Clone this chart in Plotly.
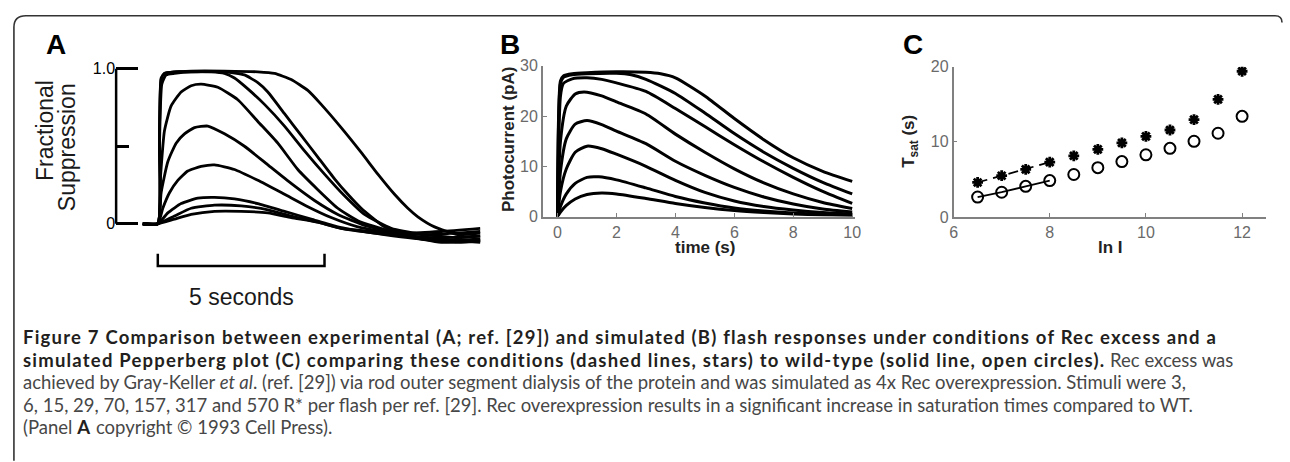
import plotly.graph_objects as go

W, H = 1290, 462

# ---------------- Panel A: experimental fractional suppression
A_t = [
    [-0.45, 0, 0.5, 1.0, 1.7, 2.5, 3.3, 4.0, 4.8, 5.5, 6.5, 7.5, 8.5, 9.67],
    [-0.45, 0, 0.5, 1.0, 1.7, 2.5, 3.3, 4.0, 4.8, 5.5, 6.5, 7.5, 8.5, 9.67],
    [-0.45, 0, 0.3, 0.7, 1.2, 1.7, 2.3, 3.0, 3.8, 4.6, 5.4, 6.5, 7.5, 8.5, 9.67],
    [-0.45, 0, 0.15, 0.35, 0.6, 0.9, 1.3, 1.7, 2.3, 3.0, 3.8, 4.5, 5.2, 6.0, 7.0, 8.0, 9.0, 9.67],
    [-0.45, 0, 0.1, 0.3, 0.55, 0.8, 1.1, 1.5, 2.0, 2.6, 3.3, 4.0, 4.7, 5.4, 6.2, 7.0, 8.0, 9.0, 9.67],
    [-0.45, 0, 0.08, 0.2, 0.4, 0.7, 1.0, 1.3, 1.8, 2.4, 3.0, 3.6, 4.2, 4.8, 5.4, 6.0, 7.0, 8.0, 9.0, 9.67],
    [-0.45, 0, 0.05, 0.12, 0.25, 0.5, 1.0, 1.6, 2.0, 2.3, 2.7, 3.2, 3.8, 4.4, 5.0, 5.6, 6.2, 7.0, 8.0, 9.0, 9.67],
    [-0.45, 0, 0.05, 0.1, 0.2, 0.5, 1.0, 2.0, 2.6, 3.0, 3.3, 3.8, 4.3, 4.8, 5.3, 5.7, 6.1, 6.8, 7.5, 8.5, 9.67],
    [-0.45, 0, 0.05, 0.1, 0.2, 0.5, 1, 2, 3, 3.5, 4.0, 4.5, 4.9, 5.5, 6.1, 6.6, 7.1, 7.5, 7.8, 8.3, 9.0, 9.67],
]
A_v = [
    [0, 0, 0.03, 0.06, 0.08, 0.08, 0.07, 0.04, 0.01, -0.03, -0.05, -0.06, -0.05, -0.03],
    [0, 0, 0.05, 0.10, 0.12, 0.115, 0.09, 0.05, 0.01, -0.03, -0.06, -0.08, -0.09, -0.08],
    [0, 0, 0.07, 0.13, 0.165, 0.17, 0.16, 0.13, 0.08, 0.03, -0.02, -0.06, -0.09, -0.11, -0.10],
    [0, 0, 0.10, 0.20, 0.28, 0.34, 0.37, 0.38, 0.35, 0.28, 0.19, 0.11, 0.04, -0.02, -0.06, -0.10, -0.12, -0.11],
    [0, 0, 0.20, 0.40, 0.52, 0.58, 0.62, 0.63, 0.58, 0.50, 0.38, 0.26, 0.15, 0.06, -0.01, -0.05, -0.07, -0.06, -0.05],
    [0, 0, 0.30, 0.60, 0.76, 0.85, 0.89, 0.90, 0.88, 0.80, 0.66, 0.52, 0.35, 0.22, 0.10, 0.02, -0.05, -0.09, -0.11, -0.12],
    [0, 0, 0.50, 0.90, 0.96, 0.97, 0.98, 0.98, 0.97, 0.94, 0.87, 0.77, 0.63, 0.47, 0.32, 0.18, 0.06, -0.03, -0.07, -0.09, -0.08],
    [0, 0, 0.60, 0.93, 0.97, 0.98, 0.98, 0.98, 0.96, 0.91, 0.85, 0.71, 0.57, 0.43, 0.29, 0.19, 0.10, -0.02, -0.08, -0.12, -0.10],
    [0, 0, 0.60, 0.94, 0.97, 0.98, 0.985, 0.985, 0.98, 0.97, 0.93, 0.86, 0.77, 0.62, 0.46, 0.32, 0.19, 0.10, 0.045, -0.02, -0.07, -0.06],
]
A_tickvals = [0, 1.0]
A_ticktext = ["0", "1.0"]
A_minor_tick = [0.5]
scale_bar_s = 5

# ---------------- Panel B: simulated photocurrent (pA) vs time (s)
B_t = [
    [0, 0.1, 0.3, 0.6, 1.0, 1.5, 2, 3, 4, 5, 6, 7, 8, 9, 10],
    [0, 0.1, 0.3, 0.6, 1.0, 1.4, 2, 3, 4, 5, 6, 7, 8, 9, 10],
    [0, 0.1, 0.3, 0.6, 1.0, 1.5, 2, 3, 4, 5, 6, 7, 8, 9, 10],
    [0, 0.1, 0.3, 0.6, 1.0, 1.5, 2, 3, 4, 5, 6, 7, 8, 9, 10],
    [0, 0.1, 0.3, 0.6, 0.9, 1.5, 2, 3, 4, 5, 6, 7, 8, 9, 10],
    [0, 0.1, 0.2, 0.5, 1.0, 1.5, 2, 3, 4, 5, 6, 7, 8, 9, 10],
    [0, 0.1, 0.2, 0.5, 1.0, 2.0, 2.5, 3, 4, 5, 6, 7, 8, 9, 10],
    [0, 0.1, 0.2, 0.5, 1.0, 2.0, 3.0, 3.5, 4, 5, 6, 7, 8, 9, 10],
]
B_I = [
    [0, 0.9, 2.2, 3.5, 4.4, 4.7, 4.5, 3.6, 2.6, 1.8, 1.2, 0.8, 0.5, 0.3, 0.2],
    [0, 2.0, 4.5, 6.6, 7.8, 7.9, 7.3, 5.7, 4.0, 2.7, 1.7, 1.1, 0.7, 0.45, 0.3],
    [0, 5.0, 9.5, 12.8, 14.0, 13.5, 12.4, 10.0, 7.2, 4.8, 3.1, 2.0, 1.3, 0.8, 0.5],
    [0, 9.0, 15.5, 18.4, 19.1, 18.3, 17.0, 14.5, 11.0, 8.2, 5.8, 3.9, 2.5, 1.5, 0.9],
    [0, 15.0, 22.0, 24.4, 24.8, 24.0, 22.8, 20.4, 16.4, 12.8, 9.5, 6.7, 4.5, 2.8, 1.6],
    [0, 24.0, 26.5, 27.4, 27.6, 27.3, 26.6, 24.9, 21.5, 17.9, 14.3, 10.9, 7.8, 5.0, 2.6],
    [0, 26.5, 27.7, 28.2, 28.4, 28.5, 28.2, 27.3, 24.5, 20.6, 16.5, 12.8, 9.6, 6.8, 4.5],
    [0, 27.0, 28.0, 28.4, 28.6, 28.8, 28.7, 28.4, 27.6, 24.0, 19.5, 15.3, 11.7, 9.0, 7.0],
]
B_xticks = [0, 2, 4, 6, 8, 10]
B_yticks = [0, 10, 20, 30]

# ---------------- Panel C: simulated Pepperberg plot
C_lnI = [6.5, 7.0, 7.5, 8.0, 8.5, 9.0, 9.5, 10.0, 10.5, 11.0, 11.5, 12.0]
C_wt = [2.66, 3.3, 4.08, 4.85, 5.66, 6.57, 7.38, 8.28, 9.14, 10.08, 11.15, 13.4]
C_rec = [4.6, 5.5, 6.35, 7.3, 8.15, 9.0, 9.87, 10.73, 11.58, 12.96, 15.66, 19.4]
C_fit_n = 4
C_xticks = [6, 8, 10, 12]
C_yticks = [0, 10, 20]

# ---------------- helpers (reference-picture pixel -> paper fraction)
def px(x):
    return x / W

def py(y):
    return 1 - y / H

fig = go.Figure()

for t, v in zip(A_t, A_v):
    fig.add_trace(go.Scatter(x=t, y=v, mode="lines", xaxis="x", yaxis="y",
                             line=dict(color="black", width=2.8, shape="spline", smoothing=0.5),
                             hoverinfo="skip"))
fig.add_trace(go.Scatter(x=[0, 0, scale_bar_s, scale_bar_s], y=[-0.193, -0.273, -0.273, -0.193],
                         mode="lines", xaxis="x", yaxis="y",
                         line=dict(color="black", width=2.5), hoverinfo="skip"))

for t, v in zip(B_t, B_I):
    fig.add_trace(go.Scatter(x=t, y=v, mode="lines", xaxis="x2", yaxis="y2",
                             line=dict(color="black", width=3, shape="spline", smoothing=0.6),
                             hoverinfo="skip"))

fig.add_trace(go.Scatter(x=C_lnI[:C_fit_n], y=C_wt[:C_fit_n], mode="lines", xaxis="x3", yaxis="y3",
                         line=dict(color="black", width=1.8)))
fig.add_trace(go.Scatter(x=C_lnI[:C_fit_n], y=C_rec[:C_fit_n], mode="lines", xaxis="x3", yaxis="y3",
                         line=dict(color="black", width=1.8, dash="10px,6px")))
fig.add_trace(go.Scatter(x=C_lnI, y=C_wt, mode="markers", xaxis="x3", yaxis="y3",
                         marker=dict(symbol="circle-open", size=11, color="black",
                                     line=dict(width=2, color="black"))))
fig.add_trace(go.Scatter(x=C_lnI, y=C_rec, mode="markers", xaxis="x3", yaxis="y3",
                         marker=dict(symbol="asterisk-open", size=9, color="black",
                                     line=dict(width=2.8, color="black"))))

grey = "#808080"
tickgrey = "#6a6a6a"
axfont = dict(family="Liberation Sans, Arial, sans-serif", size=16, color=tickgrey)
common = dict(showgrid=False, zeroline=False, showline=True, linecolor=grey, linewidth=1.6,
              ticks="inside", ticklen=4, tickcolor=grey, tickwidth=1.2, tickfont=axfont)

fig.update_layout(
    width=W, height=H, margin=dict(l=0, r=0, t=0, b=0, pad=0),
    paper_bgcolor="white", plot_bgcolor="rgba(0,0,0,0)", showlegend=False,
    xaxis=dict(domain=[px(113), px(490)], range=[-1.25, 9.97], visible=False, anchor="y"),
    yaxis=dict(domain=[py(290), py(50)], range=[-0.41, 1.081], anchor="x",
               showgrid=False, zeroline=False, showline=False,
               tickmode="array", tickvals=A_tickvals, ticktext=A_ticktext,
               ticks="inside", ticklen=22, tickwidth=2.5, tickcolor="black",
               tickfont=dict(family="Liberation Sans, Arial, sans-serif", size=16, color="black"),
               minor=dict(tickmode="array", tickvals=A_minor_tick, ticks="inside",
                          ticklen=13, tickwidth=2.5, tickcolor="black")),
    xaxis2=dict(domain=[px(543), px(857.8)], range=[-0.5, 10.1], anchor="y2",
                tickmode="array", tickvals=B_xticks, **common),
    yaxis2=dict(domain=[py(216.5), py(60)], range=[0, 30], anchor="x2",
                tickmode="array", tickvals=B_yticks, **common),
    xaxis3=dict(domain=[px(957), px(1272)], range=[6, 12.5], anchor="y3",
                tickmode="array", tickvals=C_xticks, **common),
    yaxis3=dict(domain=[py(217), py(61)], range=[0, 20], anchor="x3",
                tickmode="array", tickvals=C_yticks, **common),
)

# Panel A axis line from 0 to 1
fig.add_shape(type="line", xref="x domain", yref="y", x0=0, x1=0, y0=0, y1=1.0,
              line=dict(color="black", width=2.5))

# outer frame (rounded corners)
r = 12
ft = 8
path = (f"M {px(10)},{py(470)} L {px(10)},{py(ft + r)} Q {px(10)},{py(ft)} {px(10 + r)},{py(ft)} "
        f"L {px(1281)},{py(ft)} Q {px(1288)},{py(ft)} {px(1288)},{py(ft + 7)}")
fig.add_shape(type="path", xref="paper", yref="paper", path=path,
              line=dict(color="#333333", width=1.6))

ann = []
lblfont = dict(family="Liberation Sans, Arial, sans-serif", size=28, color="black")
for txt, x in (("A", 52), ("B", 510), ("C", 916)):
    ann.append(dict(text=f"<b>{txt}</b>", x=px(x), y=py(38), xref="paper", yref="paper",
                    xanchor="center", yanchor="middle", showarrow=False, font=lblfont))

afont = dict(family="Liberation Sans, Arial, sans-serif", size=23, color="#1a1a1a")
ann.append(dict(text="Fractional", x=px(42), y=py(127), xref="paper", yref="paper", textangle=-90,
                xanchor="center", yanchor="middle", showarrow=False, font=afont))
ann.append(dict(text="Suppression", x=px(63), y=py(145), xref="paper", yref="paper", textangle=-90,
                xanchor="center", yanchor="middle", showarrow=False, font=afont))
ann.append(dict(text="5 seconds", x=scale_bar_s / 2, y=py(300), xref="x", yref="paper",
                xanchor="center", yanchor="middle", showarrow=False,
                font=dict(family="Liberation Sans, Arial, sans-serif", size=23, color="#1a1a1a")))

tfont = dict(family="Liberation Sans, Arial, sans-serif", size=17, color="#222222")
ann.append(dict(text="<b>Photocurrent (pA)</b>", x=px(509), y=py(137), xref="paper", yref="paper",
                textangle=-90, xanchor="center", yanchor="middle", showarrow=False, font=tfont))
ann.append(dict(text="<b>time (s)</b>", x=px(706), y=py(249), xref="paper", yref="paper",
                xanchor="center", yanchor="middle", showarrow=False, font=tfont))
ann.append(dict(text="<b>T<sub>sat</sub> (s)</b>", x=px(913), y=py(138), xref="paper", yref="paper",
                textangle=-90, xanchor="center", yanchor="middle", showarrow=False, font=tfont))
ann.append(dict(text="<b>ln I</b>", x=px(1115), y=py(249), xref="paper", yref="paper",
                xanchor="center", yanchor="middle", showarrow=False, font=tfont))

B = "<span style='color:#231f20;letter-spacing:1.2px'><b>%s</b></span>"
caption = [
    B % "Figure 7 Comparison between experimental (A; ref. [29]) and simulated (B) flash responses under conditions of Rec excess and a",
    B % "simulated Pepperberg plot (C) comparing these conditions (dashed lines, stars) to wild-type (solid line, open circles)." + " Rec excess was",
    "achieved by Gray-Keller <i>et al</i>. (ref. [29]) via rod outer segment dialysis of the protein and was simulated as 4x Rec overexpression. Stimuli were 3,",
    "6, 15, 29, 70, 157, 317 and 570 R* per flash per ref. [29]. Rec overexpression results in a significant increase in saturation times compared to WT.",
    "(Panel " + B % "A" + " copyright © 1993 Cell Press).",
]
cap_y = [342, 365, 388, 412, 435]
capfont = dict(family="Lato, Open Sans, sans-serif", size=18.5, color="#474747")
for line, yy in zip(caption, cap_y):
    ann.append(dict(text=line, x=px(17), y=py(yy), xref="paper", yref="paper",
                    xanchor="left", yanchor="middle", showarrow=False, font=capfont, align="left"))

fig.update_layout(annotations=ann)
fig.write_html("out.html", config={"displayModeBar": False},
               post_script="document.body.style.margin='0px';document.body.style.overflow='hidden';")
